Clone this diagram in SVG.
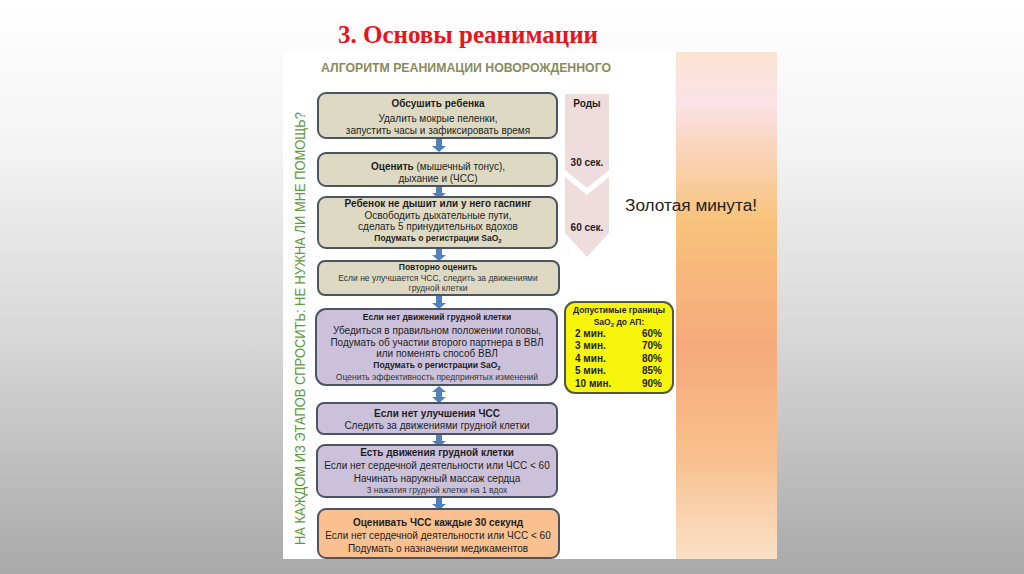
<svg xmlns="http://www.w3.org/2000/svg" width="1024" height="574" viewBox="0 0 1024 574">
<defs>
<linearGradient id="bg" x1="0" y1="0" x2="0" y2="1">
<stop offset="0" stop-color="#ffffff"/>
<stop offset="0.25" stop-color="#f4f4f4"/>
<stop offset="0.6" stop-color="#d6d6d6"/>
<stop offset="1" stop-color="#a9a9a9"/>
</linearGradient>
<linearGradient id="strip" x1="0" y1="0" x2="0" y2="1">
<stop offset="0" stop-color="#fae3cf"/>
<stop offset="0.1" stop-color="#fce2e8"/>
<stop offset="0.18" stop-color="#f9d6c0"/>
<stop offset="0.33" stop-color="#f8c37c"/>
<stop offset="0.58" stop-color="#f6aa7b"/>
<stop offset="0.8" stop-color="#f8c08e"/>
<stop offset="1" stop-color="#fae0c8"/>
</linearGradient>
<g id="arr"><path d="M-3,0 H3 V7 H7 L0,13 L-7,7 H-3 Z" fill="#4f81bd"/></g>
</defs>
<style>
.t{font-family:"Liberation Sans",Arial,sans-serif;fill:#1e1e1e;text-anchor:middle}
.n{font-size:10px}
.b{font-size:10px;font-weight:bold}
.s{font-size:8.5px;font-weight:bold}
.m{font-size:8.5px;fill:#333}
.c{font-size:10px;font-weight:bold}
.box{stroke:#4a5463;stroke-width:2}
.tan{fill:#ddd9c3}
.pur{fill:#ccc1da}
.org{fill:#fac090}
.chev{fill:#efdcdc}
.y{font-family:"Liberation Sans",Arial,sans-serif;font-size:10px;font-weight:bold;fill:#1e1e1e}
</style>
<rect width="1024" height="574" fill="url(#bg)"/>
<text x="468" y="43" font-family="Liberation Serif,serif" font-size="25" font-weight="bold" fill="#e8141b" text-anchor="middle">3. Основы реанимации</text>
<rect x="283" y="52" width="394" height="507" fill="#ffffff"/>
<rect x="676" y="52" width="101" height="507" fill="url(#strip)"/>
<text x="466" y="72" font-family="Liberation Sans,Arial,sans-serif" font-size="12" font-weight="bold" fill="#8a8a5c" text-anchor="middle" textLength="290" lengthAdjust="spacingAndGlyphs">АЛГОРИТМ РЕАНИМАЦИИ НОВОРОЖДЕННОГО</text>
<text transform="translate(305,545) rotate(-90)" font-family="Liberation Sans,Arial,sans-serif" font-size="14" fill="#5f9a3a" textLength="433" lengthAdjust="spacingAndGlyphs">НА КАЖДОМ ИЗ ЭТАПОВ СПРОСИТЬ: НЕ НУЖНА ЛИ МНЕ ПОМОЩЬ?</text>
<g id="connectors">
<use href="#arr" x="439" y="139"/>
<use href="#arr" x="439" y="186"/>
<use href="#arr" x="439" y="248"/>
<use href="#arr" x="439" y="296"/>
<path d="M439,386 L446,392 H442 V397 H446 L439,403 L432,397 H436 V392 H432 Z" fill="#4f81bd"/>
<use href="#arr" x="439" y="434"/>
<use href="#arr" x="439" y="497"/>
</g>
<g id="n1">
<rect class="box tan" x="318" y="93" width="239" height="45" rx="8"/>
<text class="t b" x="438" y="107">Обсушить ребенка</text>
<text class="t n" x="438" y="122">Удалить мокрые пеленки,</text>
<text class="t n" x="438" y="134">запустить часы и зафиксировать время</text>
</g>
<g id="n2">
<rect class="box tan" x="318" y="153" width="239" height="33" rx="8"/>
<text class="t n" x="438" y="170"><tspan font-weight="bold">Оценить</tspan> (мышечный тонус),</text>
<text class="t n" x="438" y="182">дыхание  и (ЧСС)</text>
</g>
<g id="n3">
<rect class="box tan" x="318" y="197" width="239" height="51" rx="8"/>
<text class="t b" x="438" y="207">Ребенок не дышит или у него гаспинг</text>
<text class="t n" x="438" y="219">Освободить дыхательные пути,</text>
<text class="t n" x="438" y="230">сделать 5 принудительных  вдохов</text>
<text class="t s" x="438" y="241">Подумать о регистрации SaO<tspan font-size="6" dy="2">2</tspan></text>
</g>
<g id="n4">
<rect class="box tan" x="318" y="261" width="241" height="34" rx="7"/>
<text class="t s" x="438" y="270">Повторно оценить</text>
<text class="t m" x="438" y="281">Если не улучшается ЧСС, следить за движениями</text>
<text class="t m" x="438" y="291">грудной клетки</text>
</g>
<g id="n5">
<rect class="box pur" x="316" y="309" width="241" height="76" rx="10"/>
<text class="t s" x="437" y="320">Если нет движений грудной клетки</text>
<text class="t n" x="437" y="334">Убедиться в правильном положении головы,</text>
<text class="t n" x="437" y="346">Подумать  об участии второго партнера в ВВЛ</text>
<text class="t n" x="437" y="357">или поменять способ ВВЛ</text>
<text class="t s" x="437" y="368">Подумать о регистрации SaO<tspan font-size="6" dy="2">2</tspan></text>
<text class="t m" x="437" y="380">Оценить эффективность предпринятых изменений</text>
</g>
<g id="n6">
<rect class="box pur" x="317" y="403" width="240" height="31" rx="7"/>
<text class="t b" x="437" y="417">Если нет улучшения ЧСС</text>
<text class="t n" x="437" y="429">Следить за движениями  грудной клетки</text>
</g>
<g id="n7">
<rect class="box pur" x="317" y="445" width="240" height="52" rx="8"/>
<text class="t b" x="437" y="456">Есть движения грудной клетки</text>
<text class="t n" x="437" y="469">Если нет сердечной деятельности или ЧСС &lt;  60</text>
<text class="t n" x="437" y="482">Начинать наружный  массаж сердца</text>
<text class="t m" x="437" y="493">3 нажатия грудной клетки на 1 вдох</text>
</g>
<g id="n8">
<rect class="box org" x="318" y="509" width="241" height="49" rx="8"/>
<text class="t b" x="438" y="526">Оценивать ЧСС каждые  30 секунд</text>
<text class="t n" x="438" y="539">Если нет сердечной деятельности или ЧСС &lt;  60</text>
<text class="t n" x="438" y="552">Подумать о назначении  медикаментов</text>
</g>
<g id="timeline">
<path class="chev" d="M565,94 H609 V170 L587,188 L565,170 Z"/>
<path class="chev" d="M565,177 L587,195 L609,177 V233 L587,257 L565,233 Z"/>
<text class="t c" x="587" y="107">Роды</text>
<text class="t c" x="587" y="166">30 сек.</text>
<text class="t c" x="587" y="231">60 сек.</text>
</g>
<text x="625" y="211" font-family="Liberation Sans,Arial,sans-serif" font-size="16" fill="#222" textLength="132" lengthAdjust="spacingAndGlyphs">Золотая минута!</text>
<g id="sat">
<rect x="565" y="302" width="108" height="91" rx="10" fill="#f7f50c" stroke="#555548" stroke-width="2"/>
<text class="t s" x="619" y="313">Допустимые границы</text>
<text class="t s" x="619" y="325">SaO<tspan font-size="6" dy="2">2</tspan><tspan dy="-2"> до АП:</tspan></text>
<text class="y" x="575" y="337">2 мин.</text><text class="y" x="662" y="337" text-anchor="end">60%</text>
<text class="y" x="575" y="349">3 мин.</text><text class="y" x="662" y="349" text-anchor="end">70%</text>
<text class="y" x="575" y="362">4 мин.</text><text class="y" x="662" y="362" text-anchor="end">80%</text>
<text class="y" x="575" y="374">5 мин.</text><text class="y" x="662" y="374" text-anchor="end">85%</text>
<text class="y" x="575" y="387">10 мин.</text><text class="y" x="662" y="387" text-anchor="end">90%</text>
</g>
</svg>
